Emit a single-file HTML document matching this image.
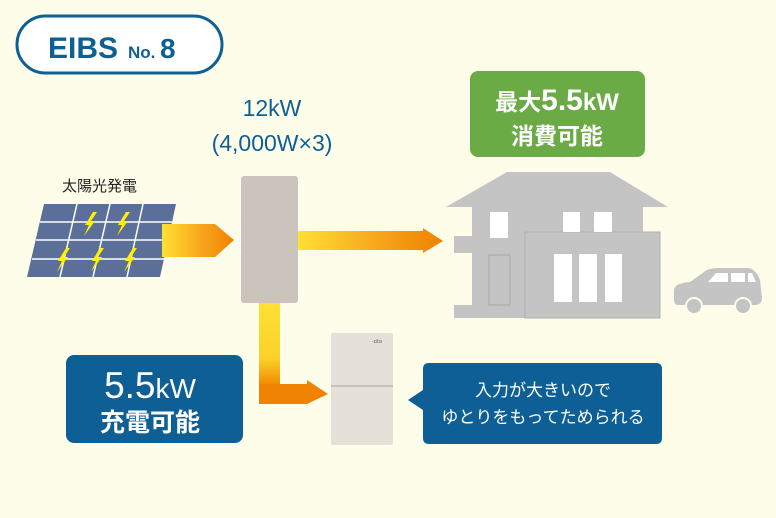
<!DOCTYPE html>
<html><head><meta charset="utf-8"><style>
html,body{margin:0;padding:0;background:#fefde9;}
svg{display:block;font-family:"Liberation Sans","Noto Sans CJK JP",sans-serif;}
</style></head><body>
<svg width="776" height="518" viewBox="0 0 776 518" xmlns="http://www.w3.org/2000/svg">
<defs>
<linearGradient id="gh" x1="0" x2="1" y1="0" y2="0">
<stop offset="0" stop-color="#ffe033"/><stop offset="0.6" stop-color="#f6a11a"/><stop offset="1" stop-color="#ef8200"/>
</linearGradient>
<linearGradient id="gv" x1="0" x2="0" y1="0" y2="1">
<stop offset="0" stop-color="#ffe033"/><stop offset="0.55" stop-color="#fcd22a"/><stop offset="0.85" stop-color="#ef8200"/><stop offset="1" stop-color="#ef8200"/>
</linearGradient>
</defs>
<rect width="776" height="518" fill="#fefde9"/>
<!-- pill -->
<rect x="17" y="16" width="205" height="57" rx="28.5" fill="#fff" stroke="#0e5f96" stroke-width="3"/>
<text x="48" y="58" font-size="30" font-weight="bold" fill="#0e5f96">EIBS</text>
<text x="128" y="58" font-size="17" font-weight="bold" fill="#0e5f96">No.</text>
<text x="160" y="58" font-size="28" font-weight="bold" fill="#0e5f96">8</text>
<!-- 12kW -->
<text x="272" y="116" font-size="23" fill="#0e5f96" text-anchor="middle">12kW</text>
<text x="272" y="151" font-size="23" fill="#0e5f96" text-anchor="middle">(4,000W×3)</text>
<!-- solar -->
<text x="62" y="191" font-size="15" fill="#222">太陽光発電</text>
<polygon points="44,204 176,204 160,277 27,277" fill="#5b6f98"/>
<g stroke="#fff" stroke-width="1.5">
<line x1="40" y1="222" x2="172" y2="222"/><line x1="36" y1="240" x2="168" y2="240"/><line x1="32" y1="259" x2="164" y2="259"/>
<line x1="77" y1="204" x2="60" y2="277"/><line x1="110" y1="204" x2="93" y2="277"/><line x1="143" y1="204" x2="127" y2="277"/>
</g>
<g fill="#fff200">
<polygon points="93,212 85,225 89,225 84,236 95,221 91,221 97,212"/>
<polygon points="126,212 118,225 122,225 117,236 128,221 124,221 130,212"/>
<polygon points="66,248 58,261 62,261 57,272 68,257 64,257 70,248"/>
<polygon points="100,248 92,261 96,261 91,272 102,257 98,257 104,248"/>
<polygon points="133,248 125,261 129,261 124,272 135,257 131,257 137,248"/>
</g>
<!-- arrow 1 -->
<polygon points="162,224 215,224 234,240 215,257 162,257" fill="url(#gh)"/>
<!-- inverter -->
<rect x="241" y="176" width="57" height="127" rx="3" fill="#cac4bd"/>
<!-- arrow 2 -->
<polygon points="298,231 423,231 423,228 443,241 423,253 423,250 298,250" fill="url(#gh)"/>
<!-- green box -->
<rect x="470" y="71" width="175" height="86" rx="8" fill="#6aab45"/>
<text x="557" y="110" font-size="30" font-weight="bold" fill="#fff" text-anchor="middle"><tspan font-size="23">最大</tspan>5.5<tspan font-size="24">kW</tspan></text>
<text x="557" y="144" font-size="23" font-weight="bold" fill="#fff" text-anchor="middle">消費可能</text>
<!-- house -->
<g fill="#c4c4c4">
<polygon points="507,172 610,172 668,207 446,207"/>
<rect x="472" y="206" width="171" height="112"/>
<rect x="454" y="236" width="20" height="17"/>
<rect x="454" y="305" width="72" height="13"/>
<rect x="525" y="232" width="135" height="86" stroke="#b0b0b0" stroke-width="1"/>
</g>
<g fill="#fff">
<rect x="490" y="212" width="18" height="26"/><rect x="563" y="212" width="17" height="20"/><rect x="594" y="212" width="18" height="20"/>
<rect x="554" y="254" width="18" height="48"/><rect x="579" y="254" width="18" height="48"/><rect x="605" y="254" width="17" height="48"/>
</g>
<rect x="489" y="255" width="21" height="50" fill="none" stroke="#aaa" stroke-width="1"/>
<!-- car -->
<path d="M674,300 L674,290 Q675,283 690,282 L704,272 Q708,268 720,268 L748,268 Q756,269 760,280 L762,298 Q762,304 756,305 L678,305 Q674,305 674,300Z" fill="#c4c4c4"/>
<g fill="#fff"><polygon points="708,282 716,273 728,273 728,282"/><rect x="731" y="273" width="14" height="9"/><polygon points="748,273 752,273 756,282 748,282"/></g>
<circle cx="694" cy="306" r="8" fill="#c4c4c4" stroke="#fefde9" stroke-width="2"/>
<circle cx="743" cy="306" r="8" fill="#c4c4c4" stroke="#fefde9" stroke-width="2"/>
<!-- arrow 3 -->
<rect x="259" y="303" width="21" height="100" fill="url(#gv)"/>
<polygon points="259,384 307,384 307,380 328,394 307,404 259,404" fill="#ef8200"/>
<!-- battery -->
<rect x="331" y="333" width="62" height="112" rx="2" fill="#e5e1d9"/>
<line x1="331" y1="386" x2="393" y2="386" stroke="#bdb8b0" stroke-width="1.5"/>
<text x="372" y="343" font-size="5" fill="#666">·ɛibs</text>
<!-- blue left -->
<rect x="66" y="355" width="177" height="88" rx="8" fill="#0e5f96"/>
<text x="150" y="398" font-size="37" fill="#fff" text-anchor="middle">5.5<tspan font-size="28">kW</tspan></text>
<text x="150" y="431" font-size="25" font-weight="bold" fill="#fff" text-anchor="middle">充電可能</text>
<!-- speech -->
<path d="M429,363 L656,363 Q662,363 662,369 L662,438 Q662,444 656,444 L429,444 Q423,444 423,438 L423,410 L408,400 L423,390 L423,369 Q423,363 429,363Z" fill="#0e5f96"/>
<text x="543" y="396" font-size="17" fill="#fff" text-anchor="middle">入力が大きいので</text>
<text x="543" y="423" font-size="17" fill="#fff" text-anchor="middle">ゆとりをもってためられる</text>
</svg>
</body></html>
